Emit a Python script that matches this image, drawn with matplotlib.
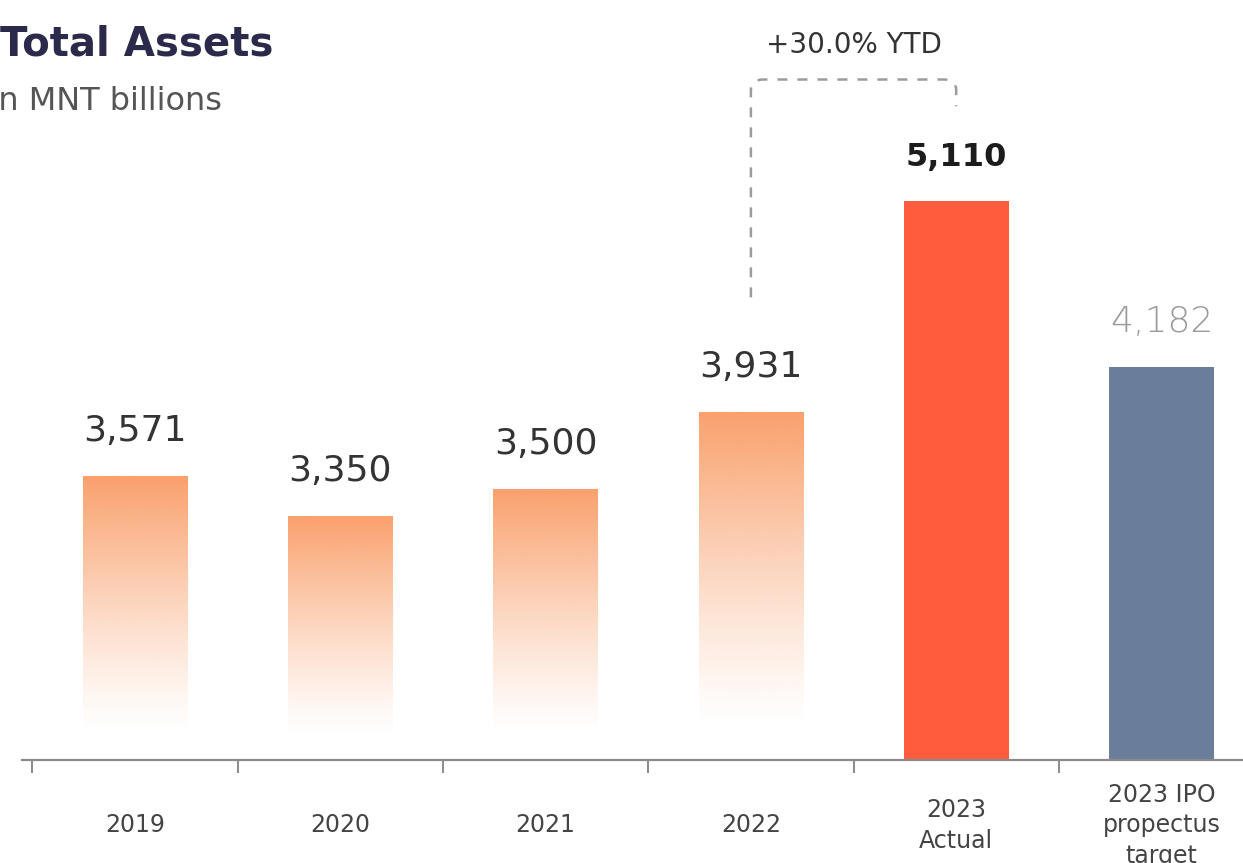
import numpy as np
import matplotlib.pyplot as plt
from matplotlib.path import Path
from matplotlib.patches import PathPatch

categories = ["2019", "2020", "2021", "2022", "2023\nActual", "2023 IPO\npropectus\ntarget"]
values = [3571, 3350, 3500, 3931, 5110, 4182]
value_labels = ["3,571", "3,350", "3,500", "3,931", "5,110", "4,182"]
growth_label = "+30.0% YTD"

title = "Total Assets"
subtitle = "In MNT billions"

orange = np.array([250, 160, 108]) / 255.0
actual_color = "#FF5B3D"
target_color = "#6A7E9B"

fig = plt.figure(figsize=(12.43, 8.63), dpi=100)
ax = fig.add_axes([0, 0.1194, 1, 0.8806])

x = np.arange(len(values))
bar_w = 0.51
y_floor = 1982
y_top = 6235
x_lo, x_hi = -0.6576, 5.397

# faded bars for the historical years, solid for 2023
for i, v in enumerate(values):
    if i < 4:
        bar = ax.bar(x[i], v - y_floor, bottom=y_floor, width=bar_w,
                     color="none", linewidth=0)[0]
        n = 256
        t = np.linspace(0, 1, n)[:, None]  # 0 at bottom, 1 at top
        alpha = np.clip((t - 0.1) / 0.9, 0, 1) ** 1.2
        grad = np.zeros((n, 1, 4))
        grad[..., :3] = orange
        grad[..., 3] = alpha
        im = ax.imshow(grad, origin="lower", aspect="auto",
                       extent=(x[i] - bar_w / 2, x[i] + bar_w / 2, y_floor, v),
                       interpolation="bilinear", zorder=2)
        im.set_clip_path(bar)
    else:
        ax.bar(x[i], v - y_floor, bottom=y_floor, width=bar_w,
               color=actual_color if i == 4 else target_color, linewidth=0, zorder=2)

# value labels above the bars
for i, (v, lab) in enumerate(zip(values, value_labels)):
    if i == 4:
        kw = dict(color="#1c1c1c", fontweight="bold", fontsize=23)
    elif i == 5:
        kw = dict(color="#9a9a9a", fontweight="light", fontsize=26)
    else:
        kw = dict(color="#333333", fontsize=26)
    ax.annotate(lab, xy=(x[i], v), xytext=(0, 25), textcoords="offset points",
                ha="center", va="baseline", **kw)

# category labels under the axis
for i, cat in enumerate(categories):
    ax.annotate(cat, xy=(x[i], 0), xycoords=("data", "axes fraction"),
                xytext=(0, -47), textcoords="offset points",
                ha="center", va="center", fontsize=17, color="#444444",
                linespacing=1.35, multialignment="center")

# dashed bracket from 2022 to 2023 Actual
y_start = values[3] + 640
y_bracket = values[4] + 680
y_end = values[4] + 530
rx, ry = 0.06, 60
verts = [(x[3], y_start), (x[3], y_bracket - ry), (x[3], y_bracket),
         (x[3] + rx, y_bracket), (x[4] - rx, y_bracket), (x[4], y_bracket),
         (x[4], y_bracket - ry), (x[4], y_end)]
codes = [Path.MOVETO, Path.LINETO, Path.CURVE3, Path.CURVE3,
         Path.LINETO, Path.CURVE3, Path.CURVE3, Path.LINETO]
ax.add_patch(PathPatch(Path(verts, codes), fill=False, edgecolor="#9c9c9c",
                       linewidth=1.8, linestyle=(0, (4, 4)), zorder=3))
ax.annotate(growth_label, xy=((x[3] + x[4]) / 2, y_bracket), xytext=(0, 25),
            textcoords="offset points", ha="center", va="center",
            fontsize=20, color="#333333")

ax.set_xlim(x_lo, x_hi)
ax.set_ylim(y_floor, y_top)

for side in ["top", "left", "right"]:
    ax.spines[side].set_visible(False)
ax.spines["bottom"].set_color("#8a8a8a")
ax.spines["bottom"].set_linewidth(1.6)
ax.spines["bottom"].set_bounds(-0.55, x_hi)
ax.set_yticks([])
ax.set_xticks(x - 0.5)
ax.set_xticklabels([])
ax.tick_params(axis="x", direction="out", length=9, width=1.4, color="#8a8a8a")

fig.text(0.0, 0.936, title, fontsize=29, fontweight="bold", color="#2b2a4a",
         ha="left", va="baseline")
fig.text(-0.009, 0.872, subtitle, fontsize=23, color="#555555",
         ha="left", va="baseline")

fig.savefig("out.png", dpi=100)
